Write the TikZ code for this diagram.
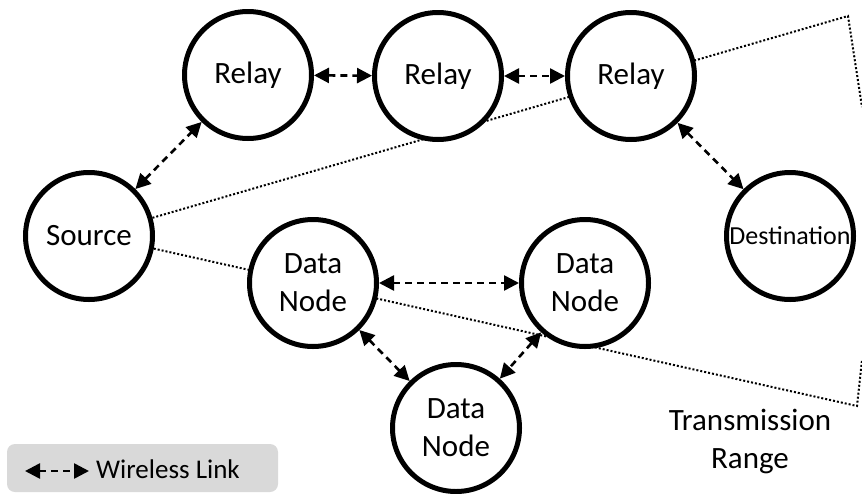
\documentclass[tikz,border=0pt]{standalone}
\usepackage{fontspec}
\setmainfont{Carlito}
\usetikzlibrary{arrows.meta}
\pgfdeclarelayer{background}
\pgfsetlayers{background,main}
\definecolor{legendgray}{HTML}{D9D9D9}
\tikzset{
  station/.style={circle, draw=black, line width=5pt, fill=white,
    minimum size=127pt, inner sep=0pt, align=center,
    font=\fontsize{31}{38}\selectfont},
  link/.style={line width=2.6pt, dash pattern=on 7pt off 5pt,
    {Triangle[length=15pt,width=15pt]}-{Triangle[length=15pt,width=15pt]}},
  rangeline/.style={line width=2pt, dash pattern=on 2pt off 2pt}
}
\begin{document}
\begin{tikzpicture}[x=1pt,y=-1pt]
\useasboundingbox (0,0) rectangle (862,493);

% stations
\node[station] (src) at (89,236) {Source};
\node[station] (r1)  at (248,75) {Relay};
\node[station] (r2)  at (438,76) {Relay};
\node[station] (r3)  at (631,76) {Relay};
\node[station, font=\fontsize{26}{30}\selectfont] (dst) at (790,236) {Destination};
\node[station] (d1) at (313,283) {Data\\Node};
\node[station] (d2) at (585,283) {Data\\Node};
\node[station] (d3) at (456,428) {Data\\Node};

% wireless links
\draw[link] (src) -- (r1);
\draw[link] (r1) -- (r2);
\draw[link] (r2) -- (r3);
\draw[link] (r3) -- (dst);
\draw[link] (d1) -- (d2);
\draw[link] (d1) -- (d3);
\draw[link] (d2) -- (d3);

% transmission range outline, behind the stations
\coordinate (topcorner) at (848,16);
\coordinate (topend) at (862,107);
\coordinate (botcorner) at (857,406);
\coordinate (botend) at (862,360);
\begin{pgfonlayer}{background}
\draw[rangeline] (src.16) -- (topcorner) -- (topend);
\draw[rangeline] (src.-11) -- (botcorner) -- (botend);
\end{pgfonlayer}

\node[font=\fontsize{31}{38}\selectfont, align=center] (rangelabel) at (750,441) {Transmission\\Range};

% legend
\node[fill=legendgray, rounded corners=8pt, minimum width=271pt, minimum height=48pt,
  inner sep=0pt] (legend) at (142.5,468) {};
\coordinate (legA) at (25,471);
\coordinate (legB) at (89,471);
\draw[link] (legA) -- (legB);
\node[anchor=west, inner sep=0pt, font=\fontsize{27}{30}\selectfont] (legtext) at (96,469) {Wireless Link};
\end{tikzpicture}
\end{document}
